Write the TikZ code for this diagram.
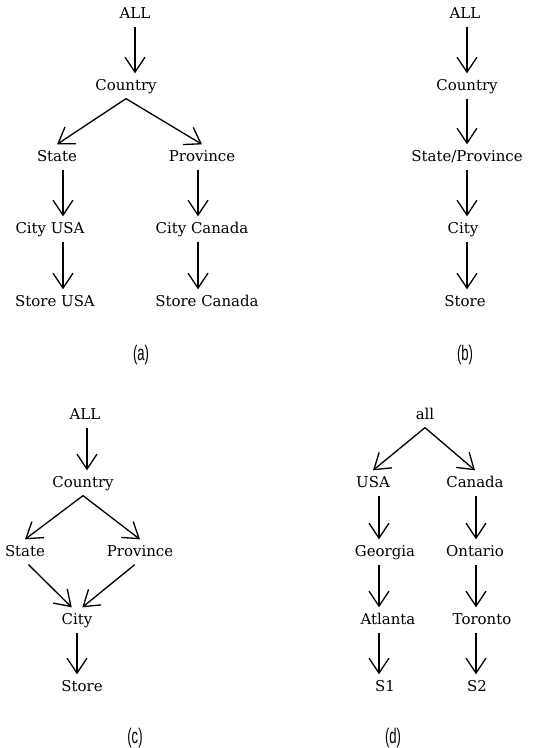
\documentclass[tikz,border=0pt]{standalone}
\usepackage{fontspec}
\usepackage{graphicx}
\setmainfont{DejaVu Serif}
\newfontfamily\capfont{Liberation Sans}
\usetikzlibrary{arrows.meta}

\begin{document}
\begin{tikzpicture}[x=.02cm, y=-.02cm, >={Straight Barb[length=3mm,width=4mm]},
            lvl/.style={font=\fontsize{8.5}{10}\selectfont, text height=7pt, text depth=2pt, inner sep=2.5pt},
            arr/.style={->, line width=.75pt},
            sublbl/.style={font=\capfont\fontsize{12}{14}\selectfont, inner sep=0pt}]
            \useasboundingbox (0,0) rectangle (533,748);
            % (a)
            \coordinate (acolT) at (135,0);
            \coordinate (acolL) at (63,0);
            \coordinate (acolR) at (198,0);
            \node[lvl] (aall) at (135,14) {ALL};
            \node[lvl] (acountry) at (126,86) {Country};
            \node[lvl] (astate) at (57,157) {State};
            \node[lvl] (aprov) at (202,157) {Province};
            \node[lvl] (acityusa) at (50,229) {City USA};
            \node[lvl] (acitycan) at (202,229) {City Canada};
            \node[lvl] (astoreusa) at (55,302) {Store USA};
            \node[lvl] (astorecan) at (207,302) {Store Canada};
            \node[sublbl] (capa) at (141,355) {\scalebox{.62}[1]{(a)}};
            \draw[arr] (aall.south -| acolT)--(acountry.north -| acolT);
            \draw[arr] (acountry.south)--(astate.north);
            \draw[arr] (acountry.south)--(aprov.north);
            \draw[arr] (astate.south -| acolL)--(acityusa.north -| acolL);
            \draw[arr] (acityusa.south -| acolL)--(astoreusa.north -| acolL);
            \draw[arr] (aprov.south -| acolR)--(acitycan.north -| acolR);
            \draw[arr] (acitycan.south -| acolR)--(astorecan.north -| acolR);
            % (b)
            \coordinate (bcol) at (467,0);
            \node[lvl] (ball) at (465,14) {ALL};
            \node[lvl] (bcountry) at (467,86) {Country};
            \node[lvl] (bstate) at (467,157) {State/Province};
            \node[lvl] (bcity) at (463,229) {City};
            \node[lvl] (bstore) at (465,302) {Store};
            \node[sublbl] (capb) at (465,355) {\scalebox{.62}[1]{(b)}};
            \foreach \a/\b in {ball/bcountry, bcountry/bstate, bstate/bcity, bcity/bstore}
            \draw[arr] (\a.south -| bcol)--(\b.north -| bcol);
            % (c)
            \coordinate (ccolT) at (87,0);
            \coordinate (ccolB) at (77,0);
            \node[lvl] (call) at (85,415) {ALL};
            \node[lvl] (ccountry) at (83,483) {Country};
            \node[lvl] (cstate) at (25,552) {State};
            \node[lvl] (cprov) at (140,552) {Province};
            \node[lvl] (ccity) at (77,620) {City};
            \node[lvl] (cstore) at (82,687) {Store};
            \node[sublbl] (capc) at (135,738) {\scalebox{.62}[1]{(c)}};
            \draw[arr] (call.south -| ccolT)--(ccountry.north -| ccolT);
            \draw[arr] (ccountry.south)--(cstate.north);
            \draw[arr] (ccountry.south)--(cprov.north);
            \draw[arr] ([xshift=2pt]cstate.south)--([xshift=-3pt]ccity.north);
            \draw[arr] ([xshift=-3pt]cprov.south)--([xshift=3pt]ccity.north);
            \draw[arr] (ccity.south -| ccolB)--(cstore.north -| ccolB);
            % (d)
            \coordinate (dcolL) at (379,0);
            \coordinate (dcolR) at (476,0);
            \node[lvl] (dall) at (425,415) {all};
            \node[lvl] (dusa) at (373,483) {USA};
            \node[lvl] (dcan) at (475,483) {Canada};
            \node[lvl] (dgeo) at (385,552) {Georgia};
            \node[lvl] (dont) at (475,552) {Ontario};
            \node[lvl] (datl) at (388,620) {Atlanta};
            \node[lvl] (dtor) at (482,620) {Toronto};
            \node[lvl] (ds1) at (385,687) {S1};
            \node[lvl] (ds2) at (477,687) {S2};
            \node[sublbl] (capd) at (393,738) {\scalebox{.62}[1]{(d)}};
            \draw[arr] (dall.south)--(dusa.north);
            \draw[arr] (dall.south)--(dcan.north);
            \foreach \a/\b in {dusa/dgeo, dgeo/datl, datl/ds1}
            \draw[arr] (\a.south -| dcolL)--(\b.north -| dcolL);
            \foreach \a/\b in {dcan/dont, dont/dtor, dtor/ds2}
            \draw[arr] (\a.south -| dcolR)--(\b.north -| dcolR);
        \end{tikzpicture}
\end{document}
